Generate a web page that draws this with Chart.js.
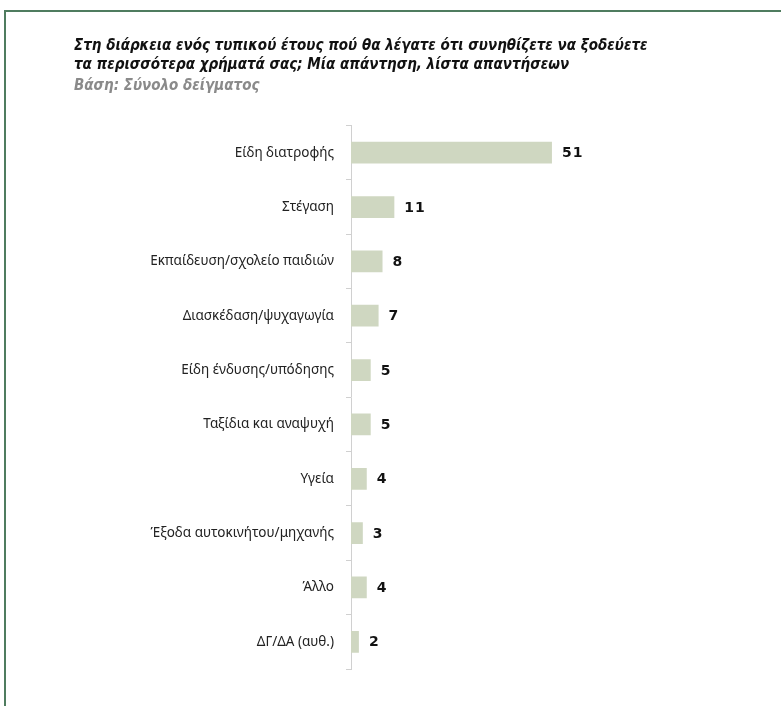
<!DOCTYPE html>
<html lang="el">
  <head>
    <meta charset="UTF-8" />
    <title>Chart</title>
    <script src="https://cdn.jsdelivr.net/npm/chart.js@4"></script>
    <style>
      body { margin: 0; background: #fff; }
      #frame {
        position: absolute; left: 4px; top: 10px; right: -10px; bottom: -10px;
        border-top: 2px solid #4f7c5f; border-left: 2px solid #4f7c5f;
      }
      #myChart { position: absolute; left: 0; top: 0; }
    </style>
  </head>
  <body>
    <div id="frame"></div>
    <canvas id="myChart" width="781" height="706"></canvas>

    <script>
      const categories = [
        "Είδη διατροφής",
        "Στέγαση",
        "Εκπαίδευση/σχολείο παιδιών",
        "Διασκέδαση/ψυχαγωγία",
        "Είδη ένδυσης/υπόδησης",
        "Ταξίδια και αναψυχή",
        "Υγεία",
        "Έξοδα αυτοκινήτου/μηχανής",
        "Άλλο",
        "ΔΓ/ΔΑ (αυθ.)",
      ];
      const values = [51, 11, 8, 7, 5, 5, 4, 3, 4, 2];
      const titleLines = [
        "Στη διάρκεια ενός τυπικού έτους πού θα λέγατε ότι συνηθίζετε να ξοδεύετε",
        "τα περισσότερα χρήματά σας; Μία απάντηση, λίστα απαντήσεων",
      ];
      const baseText = "Βάση: Σύνολο δείγματος";

      const padLeft = 74;
      const axisX = 351;
      const titleFont = "'Liberation Sans Narrow', 'DejaVu Sans Condensed', 'Roboto', sans-serif";

      // value labels next to the bars
      const valueLabels = {
        id: "valueLabels",
        afterDatasetsDraw(chart) {
          const ctx = chart.ctx;
          const meta = chart.getDatasetMeta(0);
          ctx.save();
          ctx.font = "bold 14px 'DejaVu Sans', Verdana, sans-serif";
          ctx.fillStyle = "#111";
          ctx.textBaseline = "middle";
          ctx.letterSpacing = "1px";
          meta.data.forEach((bar, i) => {
            ctx.fillText(String(values[i]), bar.x + 10, bar.y + 1);
          });
          ctx.restore();
        },
      };

      var ctx = document.getElementById("myChart").getContext("2d");
      var myChart = new Chart(ctx, {
        type: "bar",
        data: {
          labels: categories,
          datasets: [
            {
              data: values,
              backgroundColor: "#cfd7c1",
              borderWidth: 0,
              barPercentage: 0.4,
              categoryPercentage: 1.0,
            },
          ],
        },
        plugins: [valueLabels],
        options: {
          indexAxis: "y",
          responsive: false,
          animation: false,
          layout: { padding: { left: padLeft, top: 36, right: 36, bottom: 37 } },
          plugins: {
            legend: { display: false },
            tooltip: { enabled: false },
            title: {
              display: true,
              text: titleLines,
              align: "start",
              color: "#111",
              font: { family: titleFont, size: 15, weight: "bold", style: "italic", lineHeight: 1.3 },
              padding: { top: 0, bottom: 0 },
            },
            subtitle: {
              display: true,
              text: baseText,
              align: "start",
              color: "#8a8a8a",
              font: { family: titleFont, size: 15, weight: "bold", style: "italic", lineHeight: 1.3 },
              padding: { top: 1, bottom: 30 },
            },
          },
          scales: {
            x: { display: false, min: 0, max: 100 },
            y: {
              afterFit(scale) {
                scale.width = axisX - padLeft;
              },
              border: { color: "#d0d0d0", width: 1 },
              grid: {
                offset: true,
                drawOnChartArea: false,
                drawTicks: true,
                tickLength: 5,
                color: "#d0d0d0",
              },
              ticks: {
                color: "#222",
                padding: 12,
                font: { family: "'Noto Sans', sans-serif", size: 13.5 },
              },
            },
          },
        },
      });
    </script>
  </body>
</html>
